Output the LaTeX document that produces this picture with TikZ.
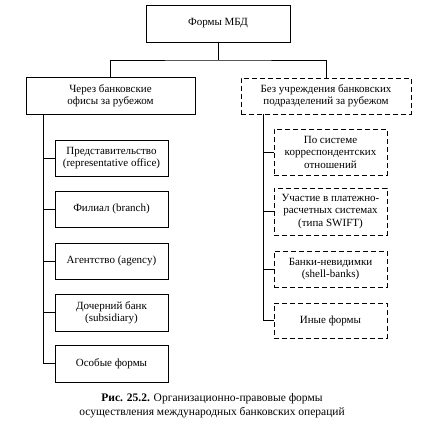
\documentclass[tikz,border=0pt]{standalone}
\usepackage{fontspec}
\setmainfont{Liberation Serif}
\usetikzlibrary{positioning}

\tikzset{
  blk/.style={draw, line width=0.7pt, align=center, inner sep=1pt,
    font=\fontsize{11}{12.5}\selectfont},
  dblk/.style={blk, dash pattern=on 5pt off 3pt},
  link/.style={line width=0.6pt}
}

\begin{document}
\begin{tikzpicture}[x=1pt, y=-1pt]
        \useasboundingbox (0,0) rectangle (424,441);
        % top level
        \node[blk, minimum width=144pt, minimum height=37pt] (forms) at (218,23.5) {Формы МБД};
        \node[blk, minimum width=169pt, minimum height=37pt] (offices) at (110.5,95.5) {Через банковские\\офисы за рубежом};
        \node[dblk, minimum width=170pt, minimum height=36pt] (nooffices) at (326,96) {Без учреждения банковских\\подразделений за рубежом};
        \coordinate (fork) at (218,60);
        \draw[link] (forms.south) -- (fork);
        \draw[link] (offices.north) |- (fork) -| (nooffices.north);
        % left branch
        \node[blk, minimum width=113pt, minimum height=36pt] (rep) at (111.5,158) {Представительство\\(representative office)};
        \node[blk, minimum width=113pt, minimum height=36pt] (branch) at (111.5,209) {Филиал (branch)};
        \node[blk, minimum width=113pt, minimum height=36pt] (agency) at (111.5,261) {Агентство (agency)};
        \node[blk, minimum width=113pt, minimum height=37pt] (subs) at (111.5,312.5) {Дочерний банк\\(subsidiary)};
        \node[blk, minimum width=113pt, minimum height=37pt] (special) at (111.5,363.5) {Особые формы};
        \coordinate (lspine) at (43,114);
        \foreach \n in {rep, branch, agency, subs, special}
          \draw[link] (lspine) |- (\n.west);
        % right branch
        \node[dblk, minimum width=113pt, minimum height=46pt] (corr) at (330.5,152) {По системе\\корреспондентских\\отношений};
        \node[dblk, minimum width=113pt, minimum height=47pt] (swift) at (330.5,211.5) {Участие в платежно-\\расчетных системах\\(типа SWIFT)};
        \node[dblk, minimum width=113pt, minimum height=36pt] (shell) at (330.5,269) {Банки-невидимки\\(shell-banks)};
        \node[dblk, minimum width=113pt, minimum height=35pt] (other) at (330.5,320.5) {Иные формы};
        \coordinate (rspine) at (263,114);
        \foreach \n in {corr, swift, shell, other}
          \draw[link] (rspine) |- (\n.west);
        % caption
        \node[align=center, font=\fontsize{11.5}{14}\selectfont] (caption) at (212,406) {\textbf{Рис. 25.2.} Организационно-правовые формы\\осуществления международных банковских операций};
        \end{tikzpicture}
\end{document}
